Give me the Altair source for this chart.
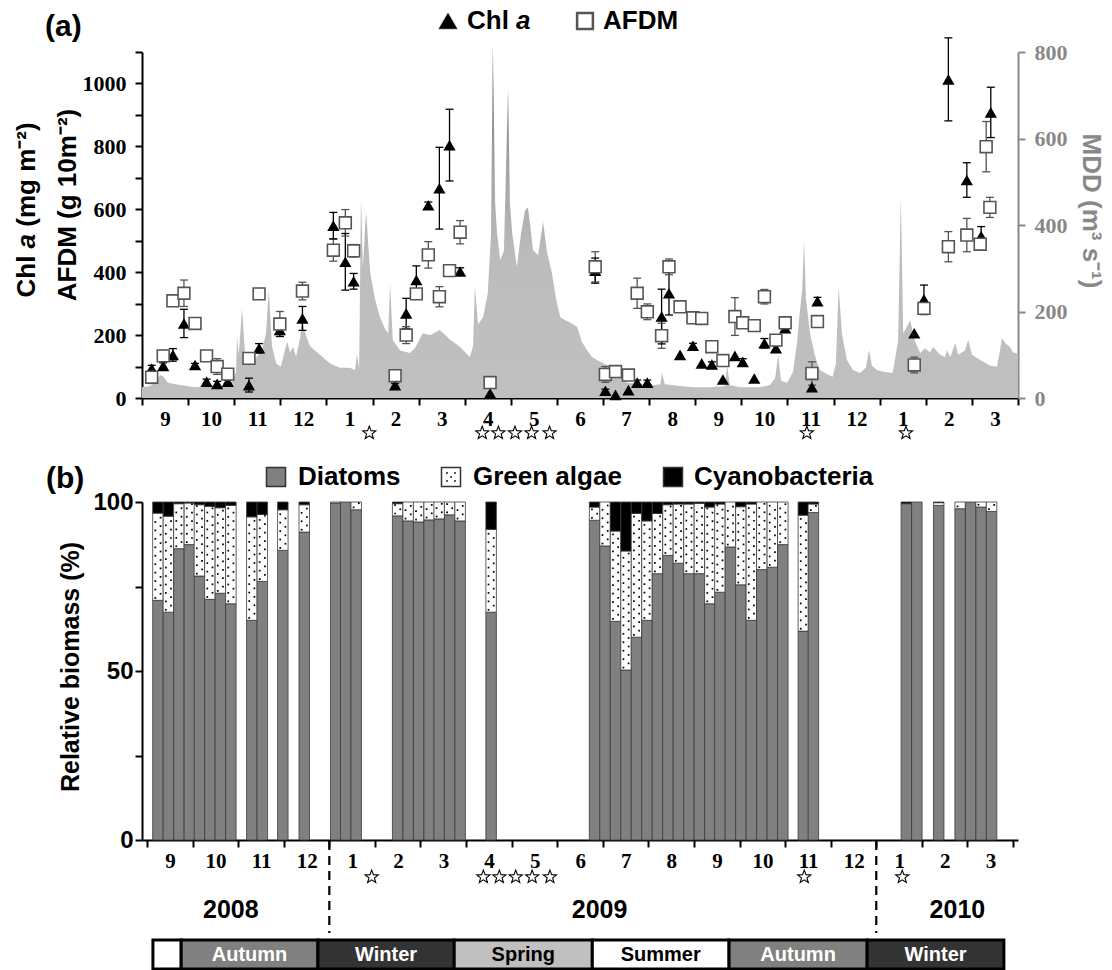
import altair as alt
import pandas as pd

# ---------------------------------------------------------------
# Time axis: months since 1 Sep 2008 (0 = start Sep 2008, 19 = end Mar 2010)
# ---------------------------------------------------------------
# Panel (a): Chl a (mg m-2)
chl_t = [0.21, 0.46, 0.67, 0.91, 1.15, 1.40, 1.63, 1.86,
         2.32, 2.54, 2.99, 3.48, 4.15, 4.41, 4.59,
         5.49, 5.73, 5.95, 6.21, 6.45, 6.67, 6.90, 7.55, 9.83,
         10.05, 10.27, 10.55, 10.74, 10.96,
         11.27, 11.43, 11.67, 11.95, 12.14, 12.36, 12.60, 12.86, 13.03, 13.28, 13.50, 13.75, 13.95,
         14.53, 14.65, 16.75, 16.96, 17.49, 17.89, 18.20, 18.41]
chl_v = [94, 102, 137, 237, 105, 52, 45, 52,
         41, 158, 216, 253, 548, 433, 371,
         41, 269, 375, 613, 667, 804, 402, 15, 405,
         23, 10, 25, 49, 49,
         259, 333, 137, 166, 110, 107, 59, 134, 115, 62, 174, 158, 222,
         34, 308, 206, 314, 1013, 693, 515, 908]
chl_e = [10, 10, 20, 45, 5, 8, 8, 5,
         22, 15, 20, 38, 42, 90, 25,
         5, 48, 45, 10, 130, 114, 12, 0, 40,
         5, 0, 0, 8, 8,
         87, 69, 0, 8, 0, 8, 0, 0, 10, 0, 15, 8, 0,
         0, 12, 0, 45, 132, 55, 30, 80]

# AFDM (g 10m-2)
afdm_t = [0.21, 0.46, 0.67, 0.91, 1.15, 1.40, 1.63, 1.86,
          2.32, 2.54, 2.99, 3.48, 4.15, 4.41, 4.59,
          5.49, 5.73, 5.95, 6.21, 6.45, 6.67, 6.90, 7.55, 9.83,
          10.05, 10.27, 10.55, 10.74, 10.96,
          11.27, 11.43, 11.67, 11.95, 12.14, 12.36, 12.60, 12.86, 13.03, 13.28, 13.50, 13.75, 13.95,
          14.53, 14.65, 16.75, 16.96, 17.49, 17.89, 18.18, 18.31, 18.39]
afdm_v = [66, 134, 309, 333, 237, 134, 100, 76,
          126, 331, 235, 340, 470, 557, 468,
          71, 200, 331, 455, 322, 405, 527, 49, 417,
          75, 84, 73, 333, 274,
          198, 417, 290, 255, 253, 163, 119, 259, 239, 230, 322, 184, 239,
          78, 243, 105, 285, 481, 518, 489, 799, 606]
afdm_e = [20, 18, 10, 42, 12, 0, 25, 12,
          0, 15, 40, 28, 35, 42, 20,
          12, 27, 16, 42, 32, 5, 37, 10, 48,
          25, 5, 8, 48, 25,
          40, 25, 0, 0, 0, 0, 0, 60, 0, 10, 23, 0, 0,
          37, 10, 25, 20, 48, 53, 0, 80, 32]

# MDD (m3 s-1)
mdd_t = [0.00, 0.17, 0.30, 0.39, 0.46, 0.56, 0.82, 1.15, 1.37, 1.58,
         1.80, 1.95, 2.04, 2.06, 2.10, 2.17, 2.23, 2.30, 2.45, 2.60,
         2.69, 2.75, 2.82, 2.91, 3.01, 3.10, 3.15, 3.21, 3.28, 3.34,
         3.43, 3.47, 3.54, 3.64, 3.86, 4.08, 4.29, 4.51, 4.62, 4.66,
         4.71, 4.75, 4.79, 4.86, 4.95, 5.05, 5.16, 5.27, 5.34, 5.38,
         5.44, 5.60, 5.81, 5.92, 6.09, 6.25, 6.46, 6.68, 6.90, 7.11,
         7.18, 7.22, 7.29, 7.40, 7.50, 7.57, 7.61, 7.66, 7.70, 7.77,
         7.85, 7.94, 7.98, 8.03, 8.13, 8.22, 8.31, 8.37, 8.42, 8.48,
         8.59, 8.70, 8.78, 8.89, 8.98, 9.07, 9.18, 9.28, 9.44, 9.54,
         9.65, 9.76, 9.87, 10.04, 10.22, 10.37, 10.52, 10.80, 11.13, 11.24,
         11.28, 11.34, 11.67, 11.95, 12.32, 12.65, 12.69, 12.75, 12.97, 13.40,
         13.62, 13.73, 13.80, 13.86, 13.99, 14.12, 14.21, 14.27, 14.32, 14.36,
         14.40, 14.49, 14.59, 14.70, 14.86, 14.98, 15.05, 15.11, 15.18, 15.29,
         15.42, 15.57, 15.70, 15.77, 15.83, 15.94, 16.11, 16.28, 16.35, 16.40,
         16.46, 16.51, 16.57, 16.66, 16.77, 16.88, 16.98, 17.09, 17.16, 17.31,
         17.42, 17.46, 17.53, 17.64, 17.70, 17.85, 17.92, 18.00, 18.18, 18.39,
         18.54, 18.61, 18.65, 18.74, 18.83, 18.89, 18.96, 19.00]
mdd_v = [25, 28, 35, 53, 50, 35, 30, 25, 28, 30,
         28, 35, 60, 141, 100, 207, 110, 80, 90, 110,
         150, 250, 120, 80, 72, 110, 130, 105, 118, 95,
         140, 180, 150, 120, 100, 80, 70, 70, 65, 100,
         70, 462, 300, 430, 289, 230, 187, 160, 150, 265,
         134, 110, 104, 115, 150, 145, 157, 135, 118, 95,
         120, 257, 170, 187, 243, 380, 816, 450, 381, 319,
         340, 716, 450, 381, 303, 380, 434, 441, 400, 342,
         330, 407, 340, 289, 230, 187, 180, 175, 164, 130,
         111, 95, 88, 78, 72, 50, 35, 32, 30, 32,
         58, 32, 28, 25, 25, 28, 76, 30, 25, 25,
         30, 45, 99, 40, 35, 60, 130, 203, 250, 365,
         230, 150, 100, 65, 55, 49, 80, 257, 150, 88,
         65, 58, 70, 111, 75, 65, 60, 58, 100, 134,
         462, 150, 160, 180, 130, 104, 115, 105, 118, 100,
         95, 111, 95, 127, 100, 110, 134, 100, 88, 75,
         72, 110, 139, 125, 118, 105, 104, 100]

# flood events (stars)
flood_t = [4.93, 7.38, 7.73, 8.09, 8.45, 8.84, 14.42, 16.57]

# Panel (b): relative biomass (%)
bar_t = [0.24, 0.47, 0.70, 0.93, 1.15, 1.38, 1.61, 1.84,
         2.30, 2.53, 2.98, 3.45, 4.14, 4.36, 4.59,
         5.50, 5.73, 5.96, 6.19, 6.41, 6.64, 6.87, 7.55,
         9.82, 10.05, 10.28, 10.51, 10.74, 10.97, 11.20, 11.43, 11.66, 11.89,
         12.12, 12.35, 12.57, 12.80, 13.03, 13.26, 13.49, 13.72, 13.95,
         14.40, 14.62, 16.66, 16.89, 17.37, 17.84, 18.07, 18.30, 18.53]
diatoms = [70.9, 67.4, 86.2, 87.4, 78.1, 71.2, 73.0, 69.9,
           65.0, 76.5, 85.7, 91.1, 99.7, 100, 97.7,
           95.9, 94.4, 94.1, 94.7, 95.0, 96.2, 94.4, 67.4,
           94.6, 87.0, 64.7, 50.3, 60.0, 65.0, 78.8, 84.2, 81.9, 78.8,
           78.8, 69.9, 73.3, 86.7, 75.5, 65.0, 80.0, 80.7, 87.4,
           61.8, 96.9, 99.5, 100, 99.0, 98.0, 100, 98.5, 97.2]
green = [25.8, 28.4, 13.3, 12.3, 21.1, 27.5, 25.3, 29.1,
         30.6, 19.8, 12.0, 8.1, 0.3, 0, 2.3,
         3.6, 5.6, 5.9, 5.3, 5.0, 3.8, 5.6, 24.5,
         3.9, 13.0, 26.7, 35.2, 36.6, 29.4, 17.8, 15.0, 17.5, 20.6,
         20.8, 28.6, 26.1, 13.3, 23.1, 34.4, 20.0, 19.3, 12.6,
         34.3, 2.5, 0, 0, 0.8, 2.0, 0, 1.5, 2.8]
cyano = [3.3, 4.2, 0.5, 0.3, 0.8, 1.3, 1.7, 1.0,
         4.4, 3.7, 2.3, 0.8, 0, 0, 0,
         0.5, 0, 0, 0, 0, 0, 0, 8.1,
         1.5, 0, 8.6, 14.5, 3.4, 5.6, 3.4, 0.8, 0.6, 0.6,
         0.4, 1.5, 0.6, 0, 1.4, 0.6, 0, 0, 0,
         3.9, 0.6, 0.5, 0, 0.2, 0, 0, 0, 0]

season_name = ["Summer", "Autumn", "Winter", "Spring", "Summer", "Autumn", "Winter"]
season_start = [0.13, 0.75, 3.75, 6.74, 9.77, 12.77, 15.80]
season_end = [0.75, 3.75, 6.74, 9.77, 12.77, 15.80, 18.80]
year_label = ["2008", "2009", "2010"]
year_t = [1.84, 9.93, 17.78]
year_break_t = [4, 16]
month_ticks = list(range(20))

# ---------------------------------------------------------------
W, H_TOP, H_BOT = 876, 346, 338
SANS, SERIF = "Liberation Sans", "Liberation Serif"
STAR = ("M0,-1L0.247,-0.34L0.951,-0.309L0.399,0.13L0.588,0.809L0,0.42"
        "L-0.588,0.809L-0.399,0.13L-0.951,-0.309L-0.247,-0.34Z")

XS = alt.Scale(domain=[0, 19], nice=False, zero=False)
x_axis = alt.Axis(values=month_ticks,
                  labelExpr="datum.value >= 19 ? '' : '' + (((datum.value + 8) % 12) + 1)",
                  labelOffset=23, labelFlush=False, labelOverlap=False, grid=False, title=None,
                  tickSize=7, tickWidth=2, domainWidth=2, domainColor="black", tickColor="black",
                  labelFont=SERIF, labelFontWeight="bold", labelFontSize=21, labelColor="black",
                  labelPadding=3)


def X(field="t:Q"):
    return alt.X(field, scale=XS, axis=x_axis)


one = alt.Data(values=[{"k": 1}])


def txt(text, x, y, size=26, style="normal", color="black", angle=0, align="left", font=SANS):
    return alt.Chart(one).mark_text(
        text=text, font=font, fontSize=size, fontWeight="bold", fontStyle=style, color=color,
        angle=angle, align=align, baseline="middle").encode(x=alt.value(x), y=alt.value(y))


def sym(shape, x, y, size, fill, stroke, sw=1.5):
    return alt.Chart(one).mark_point(
        shape=shape, size=size, filled=True, fill=fill, stroke=stroke, strokeWidth=sw,
        opacity=1).encode(x=alt.value(x), y=alt.value(y))


# ------------------------- panel (a) ----------------------------
YL = alt.Scale(domain=[0, 1100], nice=False)
YR = alt.Scale(domain=[0, 800], nice=False)
yl_axis = alt.Axis(values=list(range(0, 1101, 100)), format="d",
                   labelExpr="datum.value % 200 == 0 ? datum.label : ''",
                   orient="left", title=None, grid=False, tickSize=7, tickWidth=2, domainWidth=2,
                   domainColor="black", tickColor="black", labelFont=SERIF, labelFontWeight="bold",
                   labelFontSize=22, labelColor="black", labelPadding=9)
yr_axis = alt.Axis(values=[0, 200, 400, 600, 800], format="d", orient="right", title=None,
                   grid=False, tickSize=7, tickWidth=2, domainWidth=2, domainColor="#888",
                   tickColor="#888", labelColor="#888", labelFont=SERIF, labelFontWeight="bold",
                   labelFontSize=22, labelPadding=9)


def YLq(field):
    return alt.Y(field, scale=YL, axis=yl_axis)


mdd_df = pd.DataFrame({"t": mdd_t, "mdd": mdd_v})
chl_df = pd.DataFrame({"t": chl_t, "v": chl_v, "e": chl_e})
afdm_df = pd.DataFrame({"t": afdm_t, "v": afdm_v, "e": afdm_e})
for d in (chl_df, afdm_df):
    d["lo"] = d["v"] - d["e"]
    d["hi"] = d["v"] + d["e"]
chl_err = chl_df[chl_df["e"] > 0]
afdm_err = afdm_df[afdm_df["e"] > 0]


def caps(d):
    return pd.concat([d[["t"]].assign(y=d["lo"]), d[["t"]].assign(y=d["hi"])])


grad = alt.Gradient(gradient="linear",
                    stops=[alt.GradientStop(color="#707070", offset=0),
                           alt.GradientStop(color="#a4a4a4", offset=0.35),
                           alt.GradientStop(color="#bcbcbc", offset=0.6),
                           alt.GradientStop(color="#c0c0c0", offset=1)],
                    x1=0, x2=0, y1=0, y2=1)

area = alt.Chart(mdd_df).mark_area(color=grad, interpolate="linear").encode(
    x=X(), y=alt.Y("mdd:Q", scale=YR, axis=yr_axis))

err_a = alt.Chart(afdm_err).mark_rule(color="#555", strokeWidth=1.3).encode(
    x=X(), y=YLq("lo:Q"), y2="hi:Q")
err_c = alt.Chart(chl_err).mark_rule(color="black", strokeWidth=1.3).encode(
    x=X(), y=YLq("lo:Q"), y2="hi:Q")
cap_a = alt.Chart(caps(afdm_err)).mark_point(shape="stroke", size=64, color="#555",
                                             strokeWidth=1.3, opacity=1).encode(
    x=X(), y=YLq("y:Q"))
cap_c = alt.Chart(caps(chl_err)).mark_point(shape="stroke", size=64, color="black",
                                            strokeWidth=1.3, opacity=1).encode(
    x=X(), y=YLq("y:Q"))
tri = alt.Chart(chl_df).mark_point(shape="triangle-up", filled=True, color="black",
                                   size=150, opacity=1).encode(
    x=X(), y=YLq("v:Q"))
sq = alt.Chart(afdm_df).mark_point(shape="square", filled=True, fill="white", stroke="#555",
                                   strokeWidth=1.6, size=140, opacity=1).encode(
    x=X(), y=YLq("v:Q"))

stars_a = alt.Chart(pd.DataFrame({"t": flood_t})).mark_point(
    shape=STAR, size=190, filled=True, fill="white", stroke="black", strokeWidth=1.1,
    opacity=1).encode(x=X(), y=alt.value(381))

annot_a = [
    txt("(a)", -97, -25, size=30),
    sym("triangle-up", 306, -31, 330, "black", "black", 0.5),
    txt("Chl", 325, -31),
    txt("a", 374, -31, style="italic"),
    sym("square", 443, -31, 250, "white", "#555", 2.5),
    txt("AFDM", 461, -31),
    txt("Chl", -115, 245.5, angle=270),
    txt("a", -115, 196.4, angle=270, style="italic"),
    txt("(mg m\u207b\u00b2)", -115, 174.7, angle=270),
    txt("AFDM (g 10m\u207b\u00b2)", -74, 153, angle=270, align="center"),
    txt("MDD (m\u00b3 s\u207b\u00b9)", 949, 159, angle=90, align="center", color="#888"),
]

top = alt.layer(
    area,
    alt.layer(err_a, err_c, cap_a, cap_c, tri, sq, stars_a, *annot_a),
).resolve_scale(y="independent").properties(width=W, height=H_TOP)

# ------------------------- panel (b) ----------------------------
YB = alt.Scale(domain=[0, 100], nice=False)
yb_axis = alt.Axis(values=[0, 25, 50, 75, 100],
                   labelExpr="datum.value % 50 == 0 ? datum.label : ''",
                   title=None, grid=False, tickSize=7, tickWidth=2, domainWidth=2,
                   domainColor="black", tickColor="black", labelFont=SANS, labelFontWeight="bold",
                   labelFontSize=24, labelColor="black", labelPadding=2)

rows, dots = [], []
for t, d, g, c in zip(bar_t, diatoms, green, cyano):
    rows.append({"t": t, "grp": "Diatoms", "y0": 0, "y1": d})
    if g > 0:
        rows.append({"t": t, "grp": "Green algae", "y0": d, "y1": d + g})
        k, yy = 0, d + 0.7
        while yy < d + g - 0.2:
            dots.append({"t": t, "y": yy, "col": k % 2})
            yy += 1.25
            k += 1
    if c > 0:
        rows.append({"t": t, "grp": "Cyanobacteria", "y0": d + g, "y1": d + g + c})
bar_df = pd.DataFrame(rows)
dot_df = pd.DataFrame(dots)

bars = alt.Chart(bar_df).mark_bar(size=10.5, orient="vertical", stroke="#3a3a3a",
                                  strokeWidth=0.8).encode(
    x=X(), y=alt.Y("y0:Q", scale=YB, axis=yb_axis), y2="y1:Q",
    fill=alt.Fill("grp:N", scale=alt.Scale(domain=["Diatoms", "Green algae", "Cyanobacteria"],
                                           range=["#808080", "#ffffff", "#000000"]), legend=None))
dots_l = alt.Chart(dot_df[dot_df["col"] == 0]).mark_square(size=3, color="black", opacity=1,
                                                             xOffset=-2.6).encode(
    x=X(), y=alt.Y("y:Q", scale=YB, axis=yb_axis))
dots_r = alt.Chart(dot_df[dot_df["col"] == 1]).mark_square(size=3, color="black", opacity=1,
                                                             xOffset=2.6).encode(
    x=X(), y=alt.Y("y:Q", scale=YB, axis=yb_axis))

stars_b = alt.Chart(pd.DataFrame({"t": flood_t})).mark_point(
    shape=STAR, size=190, filled=True, fill="white", stroke="black", strokeWidth=1.1,
    opacity=1).encode(x=X(), y=alt.value(375))

breaks = alt.Chart(pd.DataFrame({"t": year_break_t})).mark_rule(
    color="black", strokeWidth=2.2, strokeDash=[9, 6]).encode(
    x=X(), y=alt.value(339), y2=alt.value(431))

years = alt.Chart(pd.DataFrame({"t": year_t, "lab": year_label})).mark_text(
    font=SANS, fontSize=25, fontWeight="bold", color="black", baseline="middle").encode(
    x=X(), y=alt.value(408), text="lab:N")

season_df = pd.DataFrame({"name": season_name, "start": season_start, "end": season_end})
season_df["mid"] = (season_df["start"] + season_df["end"]) / 2
strip = alt.Chart(season_df).mark_rect(stroke="black", strokeWidth=3).encode(
    x=X("start:Q"), x2="end:Q", y=alt.value(438), y2=alt.value(467),
    color=alt.Color("name:N", scale=alt.Scale(domain=["Summer", "Autumn", "Winter", "Spring"],
                                              range=["#ffffff", "#808080", "#333333", "#c0c0c0"]),
                    legend=None))
lab_df = season_df[season_df["end"] - season_df["start"] > 1]
light = lab_df[lab_df["name"].isin(["Autumn", "Winter"])]
dark = lab_df[~lab_df["name"].isin(["Autumn", "Winter"])]
strip_t1 = alt.Chart(light).mark_text(font=SANS, fontSize=20, fontWeight="bold", color="white",
                                      baseline="middle").encode(
    x=X("mid:Q"), y=alt.value(453), text="name:N")
strip_t2 = alt.Chart(dark).mark_text(font=SANS, fontSize=20, fontWeight="bold", color="black",
                                     baseline="middle").encode(
    x=X("mid:Q"), y=alt.value(453), text="name:N")

annot_b = [
    txt("(b)", -96, -23, size=30),
    sym("square", 134, -25, 361, "#808080", "#333", 1.5),
    txt("Diatoms", 156, -25),
    sym("square", 309, -25, 361, "white", "#333", 1.5),
    txt("Green algae", 331, -25),
    sym("square", 531, -25, 361, "black", "#333", 1.5),
    txt("Cyanobacteria", 552, -25),
    txt("Relative biomass (%)", -71, 165, size=25, angle=270, align="center"),
]
for dx, dy in [(-4, -4), (4, -4), (0, 0), (-4, 4), (4, 4)]:
    annot_b.append(alt.Chart(one).mark_square(size=3, color="black", opacity=1).encode(
        x=alt.value(309 + dx), y=alt.value(-25 + dy)))

bottom = alt.layer(bars, dots_l, dots_r, stars_b, breaks, years, strip, strip_t1, strip_t2,
                   *annot_b).properties(width=W, height=H_BOT)

chart = alt.vconcat(top, bottom, spacing=104, bounds="flush").properties(
    padding={"left": 14, "top": 8, "right": 4, "bottom": 0}, background="white"
).configure_view(strokeWidth=0)

chart.save("out.html", embed_options={"renderer": "svg", "actions": False})
